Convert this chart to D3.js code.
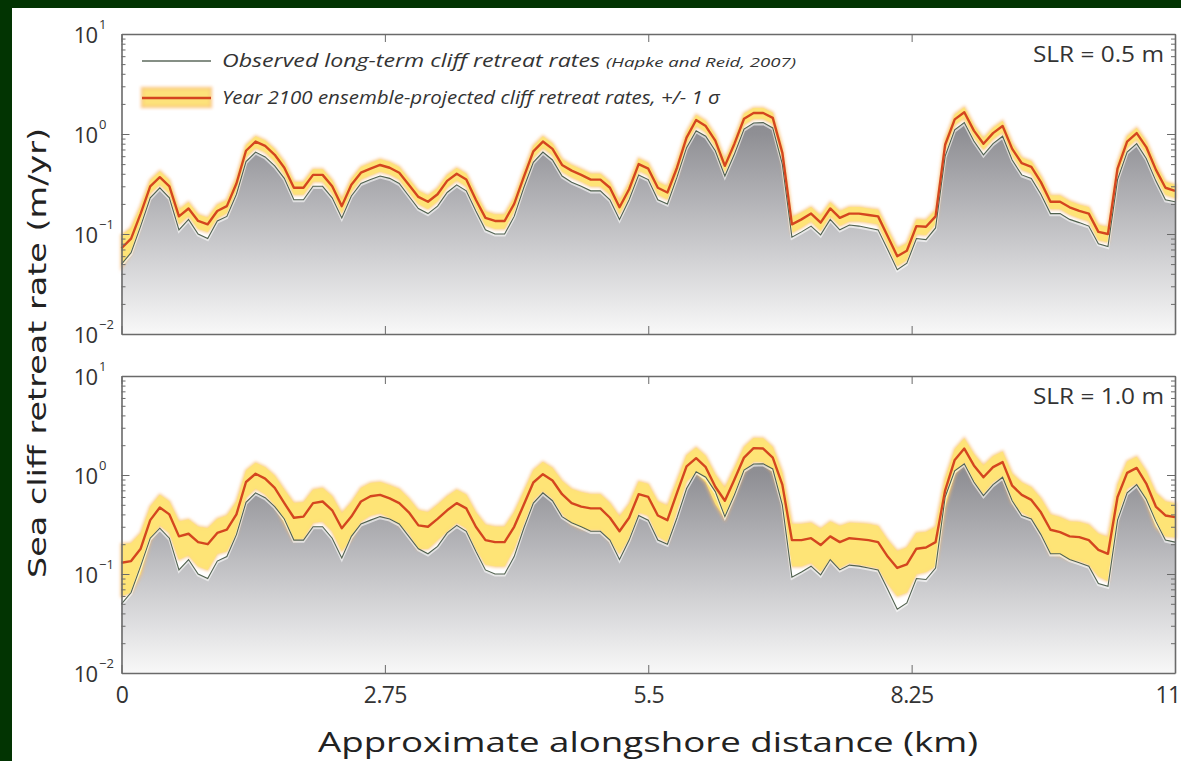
<!DOCTYPE html>
<html>
<head>
<meta charset="utf-8">
<script src="https://cdn.jsdelivr.net/npm/d3@7"></script>
<style>
  html, body { margin: 0; padding: 0; background: #023402; }
  svg { display: block; }
</style>
</head>
<body>
<svg id="chart" width="1181" height="761"></svg>
<script>
// Sampling grid along the shore (km), one sample every 100 m
const distanceKm = d3.range(111).map(i => +(i * 0.1).toFixed(1));

// Observed long-term cliff retreat rates (m/yr)
const observed = [
  0.05, 0.065, 0.12, 0.23, 0.29, 0.23, 0.11, 0.14, 0.10, 0.09,
  0.135, 0.15, 0.25, 0.53, 0.66, 0.59, 0.48, 0.36, 0.22, 0.22,
  0.30, 0.30, 0.23, 0.145, 0.24, 0.32, 0.35, 0.38, 0.36, 0.32,
  0.24, 0.18, 0.16, 0.19, 0.26, 0.31, 0.27, 0.17, 0.11, 0.10,
  0.10, 0.15, 0.29, 0.52, 0.66, 0.55, 0.38, 0.33, 0.30, 0.27,
  0.27, 0.22, 0.14, 0.22, 0.39, 0.35, 0.22, 0.20, 0.37, 0.73,
  1.08, 0.95, 0.68, 0.38, 0.63, 1.12, 1.29, 1.30, 1.15, 0.50,
  0.093, 0.105, 0.12, 0.098, 0.14, 0.11, 0.123, 0.12, 0.115, 0.11,
  0.07, 0.044, 0.051, 0.09, 0.088, 0.115, 0.60, 1.10, 1.30, 0.85,
  0.62, 0.80, 0.95, 0.55, 0.39, 0.36, 0.25, 0.16, 0.16, 0.14,
  0.13, 0.12, 0.08, 0.075, 0.35, 0.66, 0.80, 0.57, 0.34, 0.22,
  0.21
];

// Year 2100 ensemble mean, SLR = 0.5 m (m/yr)
const proj05 = [
  0.072, 0.09, 0.16, 0.30, 0.37, 0.30, 0.15, 0.18, 0.135, 0.125,
  0.17, 0.19, 0.32, 0.68, 0.84, 0.76, 0.62, 0.46, 0.29, 0.29,
  0.39, 0.39, 0.30, 0.19, 0.31, 0.41, 0.45, 0.49, 0.46, 0.41,
  0.31, 0.235, 0.21, 0.25, 0.34, 0.40, 0.35, 0.22, 0.145, 0.135,
  0.135, 0.20, 0.37, 0.67, 0.84, 0.71, 0.49, 0.43, 0.39, 0.35,
  0.35, 0.29, 0.185, 0.28, 0.50, 0.45, 0.29, 0.26, 0.46, 0.92,
  1.38, 1.20, 0.86, 0.48, 0.80, 1.42, 1.62, 1.62, 1.45, 0.65,
  0.125, 0.14, 0.16, 0.13, 0.18, 0.145, 0.16, 0.16, 0.155, 0.15,
  0.095, 0.06, 0.068, 0.12, 0.118, 0.15, 0.78, 1.40, 1.65, 1.08,
  0.80, 1.02, 1.20, 0.71, 0.51, 0.47, 0.33, 0.21, 0.21, 0.185,
  0.17, 0.16, 0.105, 0.10, 0.45, 0.84, 1.02, 0.74, 0.44, 0.29,
  0.27
];

// One standard deviation of the ensemble, SLR = 0.5 m (m/yr)
const sd05 = [
  0.025, 0.025, 0.03, 0.045, 0.055, 0.045, 0.025, 0.028, 0.022, 0.02,
  0.026, 0.028, 0.045, 0.09, 0.11, 0.10, 0.085, 0.065, 0.042, 0.042,
  0.055, 0.055, 0.044, 0.03, 0.045, 0.058, 0.063, 0.068, 0.064, 0.058,
  0.045, 0.035, 0.032, 0.037, 0.048, 0.056, 0.05, 0.033, 0.023, 0.022,
  0.022, 0.03, 0.052, 0.09, 0.11, 0.095, 0.068, 0.06, 0.055, 0.05,
  0.05, 0.042, 0.028, 0.04, 0.068, 0.062, 0.042, 0.038, 0.064, 0.12,
  0.17, 0.15, 0.11, 0.066, 0.10, 0.18, 0.20, 0.20, 0.18, 0.09,
  0.022, 0.024, 0.026, 0.022, 0.028, 0.024, 0.026, 0.026, 0.025, 0.025,
  0.017, 0.012, 0.013, 0.02, 0.02, 0.024, 0.10, 0.17, 0.20, 0.14,
  0.10, 0.13, 0.15, 0.095, 0.07, 0.065, 0.047, 0.032, 0.032, 0.028,
  0.026, 0.025, 0.018, 0.017, 0.062, 0.11, 0.13, 0.10, 0.062, 0.042,
  0.04
];

// Year 2100 ensemble mean, SLR = 1.0 m (m/yr)
const proj10 = [
  0.13, 0.135, 0.18, 0.35, 0.47, 0.40, 0.24, 0.255, 0.21, 0.20,
  0.26, 0.28, 0.40, 0.85, 1.03, 0.92, 0.74, 0.52, 0.37, 0.38,
  0.52, 0.54, 0.44, 0.29, 0.38, 0.54, 0.61, 0.63, 0.58, 0.52,
  0.42, 0.31, 0.30, 0.36, 0.44, 0.52, 0.46, 0.30, 0.22, 0.21,
  0.21, 0.30, 0.50, 0.84, 1.02, 0.88, 0.64, 0.52, 0.48, 0.46,
  0.46, 0.37, 0.27, 0.37, 0.64, 0.60, 0.39, 0.35, 0.66, 1.22,
  1.48, 1.20, 0.76, 0.55, 0.90, 1.50, 1.87, 1.85, 1.50, 0.80,
  0.22, 0.22, 0.23, 0.196, 0.24, 0.21, 0.23, 0.225, 0.22, 0.21,
  0.15, 0.115, 0.125, 0.18, 0.185, 0.21, 0.70, 1.42, 1.85, 1.25,
  0.95, 1.20, 1.35, 0.78, 0.63, 0.56, 0.42, 0.28, 0.265, 0.24,
  0.236, 0.22, 0.175, 0.16, 0.60, 1.05, 1.18, 0.82, 0.48, 0.39,
  0.375
];

// One standard deviation of the ensemble, SLR = 1.0 m (m/yr)
const sd10 = [
  0.07, 0.07, 0.08, 0.13, 0.16, 0.14, 0.10, 0.10, 0.09, 0.09,
  0.10, 0.11, 0.14, 0.26, 0.30, 0.28, 0.24, 0.19, 0.15, 0.15,
  0.19, 0.20, 0.17, 0.12, 0.15, 0.20, 0.22, 0.22, 0.21, 0.20,
  0.16, 0.13, 0.12, 0.14, 0.17, 0.19, 0.17, 0.12, 0.095, 0.09,
  0.09, 0.12, 0.18, 0.28, 0.33, 0.30, 0.23, 0.20, 0.19, 0.18,
  0.18, 0.15, 0.11, 0.14, 0.22, 0.21, 0.15, 0.14, 0.22, 0.36,
  0.42, 0.36, 0.25, 0.19, 0.28, 0.42, 0.50, 0.50, 0.42, 0.26,
  0.10, 0.10, 0.10, 0.09, 0.10, 0.095, 0.10, 0.10, 0.10, 0.095,
  0.07, 0.055, 0.06, 0.08, 0.08, 0.09, 0.22, 0.40, 0.50, 0.38,
  0.30, 0.35, 0.38, 0.25, 0.21, 0.19, 0.16, 0.12, 0.11, 0.10,
  0.10, 0.095, 0.08, 0.075, 0.20, 0.32, 0.35, 0.27, 0.18, 0.15,
  0.14
];

const xTickValues = [0, 2.75, 5.5, 8.25, 11];
const xTickLabels = ["0", "2.75", "5.5", "8.25", "11"];
const yDecades = [0.01, 0.1, 1, 10];
const yExponents = ["\u22122", "\u22121", "0", "1"];
const panelLabels = ["SLR = 0.5 m", "SLR = 1.0 m"];

const svg = d3.select("#chart");
const FONT = "'Open Sans', sans-serif";

// white page area inside the dark frame
svg.append("rect").attr("x", 12).attr("y", 8).attr("width", 1169).attr("height", 753).attr("fill", "#ffffff");

const defs = svg.append("defs");
defs.append("filter").attr("id", "soft").attr("x", "-5%").attr("y", "-20%").attr("width", "110%").attr("height", "140%")
  .append("feGaussianBlur").attr("stdDeviation", 1.6);

const x = d3.scaleLinear().domain([0, 11]).range([121.5, 1175]);

const panels = [
  { top: 34, bottom: 334, mean: proj05, sd: sd05, label: panelLabels[0], showX: false },
  { top: 376, bottom: 673, mean: proj10, sd: sd10, label: panelLabels[1], showX: true }
];

const minorValues = [];
[0.01, 0.1, 1].forEach(d => { for (let k = 2; k <= 9; k++) minorValues.push(d * k); });

panels.forEach((p, pi) => {
  const y = d3.scaleLog().domain([0.01, 10]).range([p.bottom, p.top]);
  const g = svg.append("g");

  const gradId = "fade" + pi;
  const grad = defs.append("linearGradient").attr("id", gradId)
    .attr("gradientUnits", "userSpaceOnUse")
    .attr("x1", 0).attr("x2", 0).attr("y1", p.top).attr("y2", p.bottom);
  grad.append("stop").attr("offset", "0%").attr("stop-color", "#7b7b80");
  grad.append("stop").attr("offset", "33%").attr("stop-color", "#8f8f94");
  grad.append("stop").attr("offset", "67%").attr("stop-color", "#c5c5c8");
  grad.append("stop").attr("offset", "100%").attr("stop-color", "#f8f8f8");

  const rows = distanceKm.map((d, i) => ({
    km: d, obs: observed[i], mean: p.mean[i],
    lo: p.mean[i] - p.sd[i], hi: p.mean[i] + p.sd[i]
  }));

  // grey area under the observed rates
  g.append("path").datum(rows)
    .attr("fill", `url(#${gradId})`)
    .attr("d", d3.area().x(d => x(d.km)).y0(p.bottom).y1(d => y(d.obs)));

  // +/- 1 sigma envelope
  const band = d3.area().x(d => x(d.km)).y0(d => y(d.lo)).y1(d => y(d.hi));
  g.append("path").datum(rows)
    .attr("fill", "#fde27a").attr("stroke", "#f7b56e").attr("stroke-width", 3).attr("stroke-opacity", 0.55)
    .attr("filter", "url(#soft)")
    .attr("d", band);
  g.append("path").datum(rows)
    .attr("fill", "#fee476").attr("opacity", 0.85)
    .attr("d", band);

  // observed line
  g.append("path").datum(rows)
    .attr("fill", "none").attr("stroke", "#ffffff").attr("stroke-width", 2.6).attr("stroke-opacity", 0.6)
    .attr("d", d3.line().x(d => x(d.km)).y(d => y(d.obs) + 1.3));
  g.append("path").datum(rows)
    .attr("fill", "none").attr("stroke", "#51624f").attr("stroke-width", 1.1)
    .attr("d", d3.line().x(d => x(d.km)).y(d => y(d.obs)));

  // ensemble mean
  g.append("path").datum(rows)
    .attr("fill", "none").attr("stroke", "#d4461f").attr("stroke-width", 2.4).attr("stroke-linejoin", "round")
    .attr("d", d3.line().x(d => x(d.km)).y(d => y(d.mean)));

  // frame and inward ticks on all four sides
  const axisStyle = sel => {
    sel.selectAll(".domain").attr("stroke", "#6a6a6a").attr("stroke-width", 1.6);
    sel.selectAll(".tick line").attr("stroke", "#6a6a6a").attr("stroke-width", 1);
  };
  const left = x.range()[0], right = x.range()[1];

  g.append("g").attr("transform", `translate(${left},0)`)
    .call(d3.axisLeft(y).tickValues(yDecades).tickSizeInner(-8).tickSizeOuter(0).tickFormat(""))
    .call(axisStyle);
  g.append("g").attr("transform", `translate(${left},0)`)
    .call(d3.axisLeft(y).tickValues(minorValues).tickSizeInner(-4).tickSizeOuter(0).tickFormat(""))
    .call(axisStyle).select(".domain").remove();
  g.append("g").attr("transform", `translate(${right},0)`)
    .call(d3.axisRight(y).tickValues(yDecades).tickSizeInner(-8).tickSizeOuter(0).tickFormat(""))
    .call(axisStyle);
  g.append("g").attr("transform", `translate(${right},0)`)
    .call(d3.axisRight(y).tickValues(minorValues).tickSizeInner(-4).tickSizeOuter(0).tickFormat(""))
    .call(axisStyle).select(".domain").remove();
  g.append("g").attr("transform", `translate(0,${p.top})`)
    .call(d3.axisTop(x).tickValues(xTickValues).tickSizeInner(-8).tickSizeOuter(0).tickFormat(""))
    .call(axisStyle);
  const bottomAxis = g.append("g").attr("transform", `translate(0,${p.bottom})`)
    .call(d3.axisBottom(x).tickValues(xTickValues).tickSizeInner(-8).tickSizeOuter(0).tickPadding(14)
      .tickFormat((d, i) => p.showX ? xTickLabels[i] : ""))
    .call(axisStyle);
  bottomAxis.selectAll("text")
    .attr("fill", "#333").attr("font-family", FONT).attr("font-size", 23)
    .attr("letter-spacing", -0.6);
  // the last label sits against the page edge
  bottomAxis.selectAll(".tick:last-of-type text").attr("text-anchor", "end").attr("dx", 5);

  // decade labels 10^n
  yDecades.forEach((v, i) => {
    g.append("text")
      .attr("x", 97).attr("y", y(v) + 9)
      .attr("text-anchor", "end")
      .attr("font-family", FONT).attr("font-size", 22).attr("fill", "#333")
      .attr("letter-spacing", -1)
      .text("10");
    g.append("text")
      .attr("x", 99).attr("y", y(v) - 5)
      .attr("font-family", FONT).attr("font-size", 13).attr("fill", "#333")
      .text(yExponents[i]);
  });

  // scenario label
  g.append("text")
    .attr("x", 1164).attr("y", p.top + 28)
    .attr("text-anchor", "end")
    .attr("font-family", FONT).attr("font-size", 21).attr("fill", "#333")
    .attr("textLength", 131).attr("lengthAdjust", "spacingAndGlyphs")
    .text(p.label);
});

// legend
const lg = svg.append("g");
lg.append("line").attr("x1", 142).attr("x2", 211).attr("y1", 61).attr("y2", 61)
  .attr("stroke", "#5c6a5c").attr("stroke-width", 1.4);
lg.append("text").attr("x", 222).attr("y", 67)
  .attr("font-family", FONT).attr("font-style", "italic").attr("font-size", 19).attr("fill", "#333")
  .attr("textLength", 378).attr("lengthAdjust", "spacingAndGlyphs")
  .text("Observed long-term cliff retreat rates");
lg.append("text").attr("x", 606).attr("y", 67)
  .attr("font-family", FONT).attr("font-style", "italic").attr("font-size", 13).attr("fill", "#333")
  .attr("textLength", 190).attr("lengthAdjust", "spacingAndGlyphs")
  .text("(Hapke and Reid, 2007)");
lg.append("rect").attr("x", 142).attr("y", 88).attr("width", 69).attr("height", 19)
  .attr("fill", "#fde27a").attr("stroke", "#f7b56e").attr("stroke-width", 3).attr("stroke-opacity", 0.55)
  .attr("filter", "url(#soft)");
lg.append("line").attr("x1", 142).attr("x2", 211).attr("y1", 98).attr("y2", 98)
  .attr("stroke", "#d4461f").attr("stroke-width", 2.6);
lg.append("text").attr("x", 222).attr("y", 104)
  .attr("font-family", FONT).attr("font-style", "italic").attr("font-size", 19).attr("fill", "#333")
  .attr("textLength", 498).attr("lengthAdjust", "spacingAndGlyphs")
  .text("Year 2100 ensemble-projected cliff retreat rates, +/- 1 \u03c3");

// axis titles
svg.append("text")
  .attr("x", 648).attr("y", 752).attr("text-anchor", "middle")
  .attr("font-family", FONT).attr("font-size", 27).attr("fill", "#222")
  .attr("textLength", 660).attr("lengthAdjust", "spacingAndGlyphs")
  .text("Approximate alongshore distance (km)");
svg.append("text")
  .attr("transform", "translate(46,353) rotate(-90)")
  .attr("text-anchor", "middle")
  .attr("font-family", "'DejaVu Sans', sans-serif").attr("font-size", 25).attr("fill", "#222")
  .attr("textLength", 450).attr("lengthAdjust", "spacingAndGlyphs")
  .text("Sea cliff retreat rate (m/yr)");
</script>
</body>
</html>
